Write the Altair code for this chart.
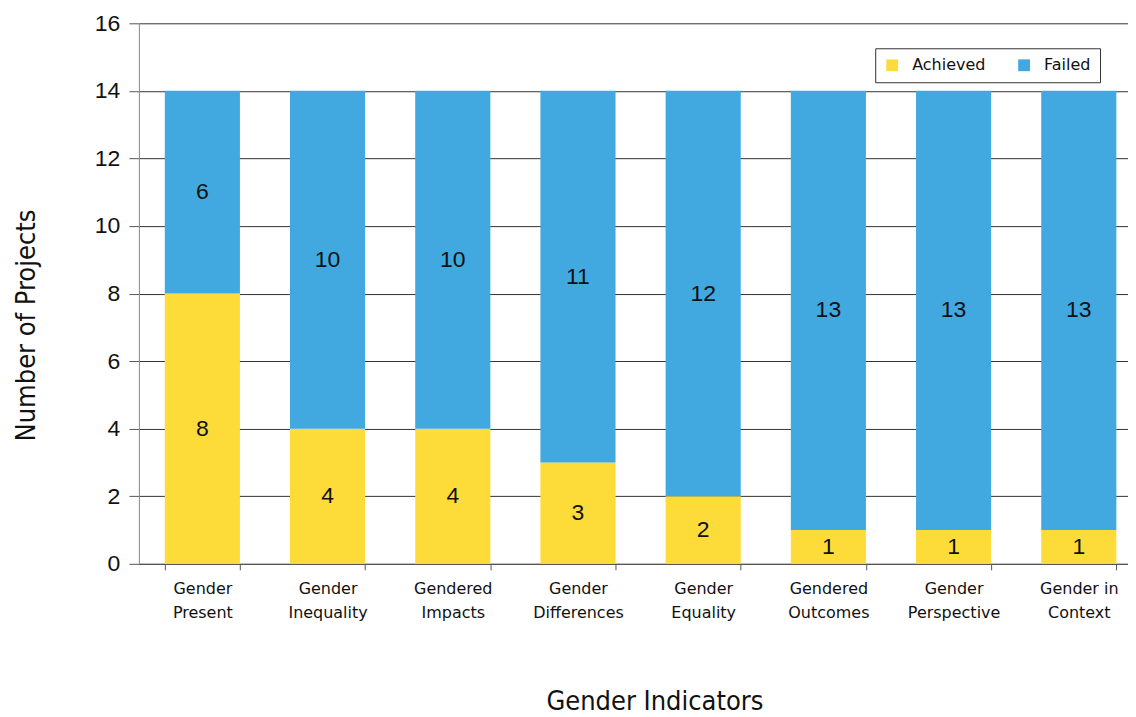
import altair as alt
import pandas as pd

categories = ["Gender\nPresent", "Gender\nInequality", "Gendered\nImpacts", "Gender\nDifferences",
              "Gender\nEquality", "Gendered\nOutcomes", "Gender\nPerspective", "Gender in\nContext"]
achieved = [8, 4, 4, 3, 2, 1, 1, 1]
failed = [6, 10, 10, 11, 12, 13, 13, 13]
statuses = ["Achieved", "Failed"]
colors = ["#FDDC3A", "#41A9DF"]

rows = []
for c, a, f in zip(categories, achieved, failed):
    rows.append({"cat": c, "status": "Achieved", "value": a, "ord": 0})
    rows.append({"cat": c, "status": "Failed", "value": f, "ord": 1})
df = pd.DataFrame(rows)

TITLE_FONT = "DejaVu Sans Condensed, Liberation Sans Narrow, sans-serif"
LABEL_FONT = "DejaVu Sans"
NUM_FONT = "Liberation Sans"

base = alt.Chart(df).transform_stack(
    stack="value", groupby=["cat"], as_=["y0", "y1"], sort=[alt.SortField("ord")]
).transform_calculate(mid="(datum.y0 + datum.y1) / 2")

xscale = alt.Scale(paddingInner=0.4, paddingOuter=0.15, align=0.69)

xenc = alt.X("cat:N", sort=categories, title="Gender Indicators", scale=xscale,
             axis=alt.Axis(labelExpr="split(datum.label, '\\n')", labelAngle=0,
                           labelFont=LABEL_FONT, labelFontSize=16, labelLineHeight=24,
                           labelColor="#111", labelPadding=11, tickBand="extent",
                           tickSize=6, tickColor="#555", domainColor="#555",
                           titleFont=TITLE_FONT, titleFontSize=27,
                           titleFontWeight="normal", titleColor="#111", titlePadding=68,
                           titleX=516))

bars = base.mark_bar().encode(
    x=xenc,
    y=alt.Y("y0:Q", title="Number of Projects",
            scale=alt.Scale(domain=[0, 16]),
            axis=alt.Axis(values=[0, 2, 4, 6, 8, 10, 12, 14, 16], grid=True,
                          gridColor="#333", gridWidth=1, domainColor="#888",
                          tickColor="#555", tickSize=10,
                          labelFont=NUM_FONT, labelFontSize=23, labelColor="#111",
                          labelPadding=9,
                          titleFont=TITLE_FONT, titleFontSize=27,
                          titleFontWeight="normal", titleColor="#111", titlePadding=54,
                          titleY=302)),
    y2="y1:Q",
    color=alt.Color("status:N", scale=alt.Scale(domain=statuses, range=colors),
                    legend=alt.Legend(title=None, orient="none", legendX=737, legendY=25,
                                      direction="horizontal", symbolType="square",
                                      symbolSize=140, symbolStrokeWidth=0,
                                      labelFont=LABEL_FONT, labelFontSize=16,
                                      labelColor="#111", strokeColor="#333",
                                      padding=9, columnPadding=30, labelOffset=12,
                                      fillColor="white")),
)

labels = base.mark_text(font=NUM_FONT, fontSize=23, color="#111").encode(
    x=alt.X("cat:N", sort=categories, scale=xscale),
    y=alt.Y("mid:Q"),
    text="value:Q",
)

chart = alt.layer(bars, labels).properties(
    width=990, height=541,
    autosize=alt.AutoSizeParams(type="none"),
    padding={"left": 131, "top": 15, "right": 0, "bottom": 152},
).configure_view(stroke=None)

chart.save("out.html", embed_options={"renderer": "svg", "actions": False})
